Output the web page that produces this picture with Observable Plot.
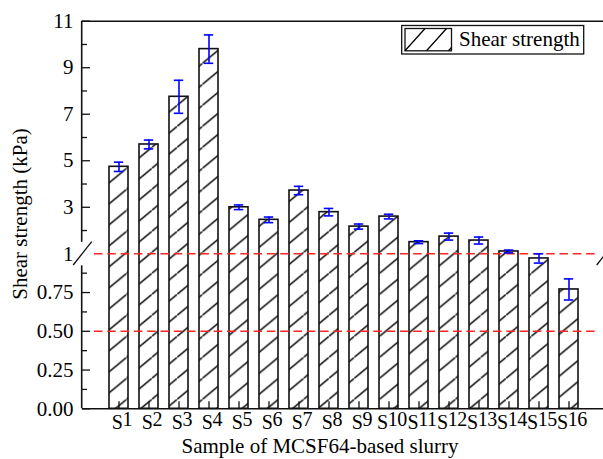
<!DOCTYPE html>
<html>
<head>
<meta charset="utf-8">
<script src="https://cdn.jsdelivr.net/npm/d3@7"></script>
<script src="https://cdn.jsdelivr.net/npm/@observablehq/plot@0.6"></script>
<style>
  html, body { margin: 0; padding: 0; background: #fff; }
  #chart { width: 603px; height: 459px; overflow: hidden; }
</style>
</head>
<body>
<div id="chart"></div>
<script>
// Shear strength of MCSF64-based slurry samples (kPa), with standard deviations
const samples = ["S1","S2","S3","S4","S5","S6","S7","S8","S9","S10","S11","S12","S13","S14","S15","S16"];
const shearStrength = [4.74, 5.70, 7.75, 9.80, 3.00, 2.46, 3.72, 2.79, 2.17, 2.60, 1.50, 1.74, 1.57, 1.10, 0.97, 0.77];
const shearError    = [0.20, 0.19, 0.71, 0.61, 0.10, 0.12, 0.18, 0.16, 0.11, 0.10, 0.06, 0.15, 0.15, 0.06, 0.03, 0.068];

// Broken y axis: 0–1 on a stretched lower segment, 1–11 above
const yBreakDomain = [0, 1, 11];
const yTicks = [0, 0.25, 0.5, 0.75, 1, 3, 5, 7, 9, 11];
const yTickLabels = ["0.00", "0.25", "0.50", "0.75", "1", "3", "5", "7", "9", "11"];
const yMinorTicks = [0.125, 0.375, 0.625, 0.875, 2, 4, 6, 8, 10];
const refLines = [0.5, 1];

const legendLabel = "Shear strength";
const xTitle = "Sample of MCSF64-based slurry";
const yTitle = "Shear strength (kPa)";

const W = 603, H = 459;
const ML = 82, MT = 21, MB = 50.7;
const FONT = "Liberation Serif, Times New Roman, Times, serif";

const rows = samples.map((s, i) => ({sample: s, value: shearStrength[i], err: shearError[i]}));

const chart = Plot.plot({
  width: W,
  height: H,
  marginLeft: ML,
  marginRight: 0,
  marginTop: MT,
  marginBottom: MB,
  style: {fontFamily: FONT, fontSize: "21px", color: "#000", background: "#fff", overflow: "hidden"},
  x: {type: "band", domain: samples, range: [81.7, 605.9], paddingInner: 0.374, paddingOuter: 0.687},
  y: {type: "linear", domain: yBreakDomain, range: [408.3, 253.3, 20.7]},
  marks: [
    Plot.barY(rows, {x: "sample", y: "value", fill: "url(#hatch)", stroke: "#111", strokeWidth: 1.6}),
    Plot.ruleY(refLines, {y: d => d, stroke: "#ff2424", strokeWidth: 1.5, strokeDasharray: "8.5,4.8", insetLeft: 12, insetRight: 5}),
    Plot.ruleX(rows, {x: "sample", y1: d => d.value - d.err, y2: d => d.value + d.err, stroke: "#0000ff", strokeWidth: 1.6}),
    Plot.tickY(rows, {x: "sample", y: d => d.value + d.err, stroke: "#0000ff", strokeWidth: 1.6, insetLeft: 4.8, insetRight: 4.8}),
    Plot.tickY(rows, {x: "sample", y: d => d.value - d.err, stroke: "#0000ff", strokeWidth: 1.6, insetLeft: 4.8, insetRight: 4.8}),
    // frame: bottom and top edges
    Plot.ruleY([0, 11], {y: d => d, stroke: "#111", strokeWidth: 1.6}),
    // inward y ticks (none at the break)
    Plot.ruleY(yTicks.filter(t => t !== 1), {y: d => d, stroke: "#111", strokeWidth: 1.3, insetRight: W - ML - 8}),
    Plot.ruleY(yMinorTicks, {y: d => d, stroke: "#111", strokeWidth: 1.3, insetRight: W - ML - 5}),
    // inward x ticks at each sample
    Plot.ruleX(samples, {x: d => d, stroke: "#111", strokeWidth: 1.3, insetTop: (H - MT - MB) - 7}),
    Plot.axisY(yTicks, {tickSize: 0, tickPadding: 9, label: null, fontSize: 21, fontFamily: FONT,
      tickFormat: d => yTickLabels[yTicks.indexOf(d)]}),
    Plot.axisX({tickSize: 0, tickPadding: 6, label: null, fontSize: 20, fontFamily: FONT, dx: 3})
  ]
});

document.getElementById("chart").appendChild(chart);

const svg = d3.select(chart);
const y = chart.scale("y");
const xRange = chart.scale("x").range;
const axisX0 = xRange[0], axisX1 = xRange[1];
const yBreak = y.apply(1);

// diagonal hatch fill for the bars
const defs = svg.insert("defs", ":first-child");
const tw = 25.3, th = 21;
const pat = defs.append("pattern")
  .attr("id", "hatch")
  .attr("patternUnits", "userSpaceOnUse")
  .attr("width", tw).attr("height", th)
  .attr("x", 0).attr("y", 0.4);
pat.append("rect").attr("width", tw).attr("height", th).attr("fill", "#fff");
pat.append("path")
  .attr("d", `M0,${th}L${tw},0`)
  .attr("stroke", "#000").attr("stroke-width", 1.4).attr("fill", "none");

// left axis with a gap at the break, and the break slashes
const deco = svg.append("g").attr("stroke", "#111").attr("fill", "none");
deco.append("line").attr("x1", axisX0).attr("x2", axisX0).attr("y1", y.apply(11)).attr("y2", yBreak - 11.5).attr("stroke-width", 1.6);
deco.append("line").attr("x1", axisX0).attr("x2", axisX0).attr("y1", yBreak + 12).attr("y2", y.apply(0)).attr("stroke-width", 1.6);
deco.append("line").attr("x1", axisX0 - 8.5).attr("y1", yBreak + 11.7).attr("x2", axisX0 + 10).attr("y2", yBreak - 11.7).attr("stroke-width", 1.3);
deco.append("line").attr("x1", axisX1 - 9.2).attr("y1", yBreak + 11.7).attr("x2", axisX1 + 9.2).attr("y2", yBreak - 11.7).attr("stroke-width", 1.3);

// x tick labels: sample numbers sit slightly raised after the "S"
svg.selectAll('g[aria-label="x-axis tick label"] text').each(function() {
  const s = this.textContent;
  const m = s.match(/^(\D+)(\d+)$/);
  if (!m) return;
  const t = d3.select(this);
  t.text(m[1]).attr("letter-spacing", "-0.4px");
  t.append("tspan").attr("dy", -3).text(m[2]);
});

// legend
const lg = svg.append("g");
lg.append("rect").attr("x", 401.7).attr("y", 25.5).attr("width", 182).attr("height", 28.5)
  .attr("fill", "#fff").attr("stroke", "#111").attr("stroke-width", 1.3);
lg.append("rect").attr("x", 405).attr("y", 28.5).attr("width", 46.5).attr("height", 22.3)
  .attr("fill", "#fff").attr("stroke", "#111").attr("stroke-width", 1.3);
lg.append("path").attr("d", "M405,50.8L425,28.5M426.5,50.8L446.5,28.5M448.5,50.8L451.5,47.5")
  .attr("stroke", "#000").attr("stroke-width", 1.3).attr("fill", "none");
lg.append("text").attr("x", 459).attr("y", 46).attr("text-anchor", "start")
  .attr("font-size", 21).attr("fill", "#000").text(legendLabel);

// axis titles
svg.append("text").attr("x", 320).attr("y", 453).attr("text-anchor", "middle")
  .attr("font-size", 21).attr("fill", "#000").text(xTitle);
svg.append("text").attr("transform", "translate(27,214) rotate(-90)").attr("text-anchor", "middle")
  .attr("font-size", 21).attr("fill", "#000").text(yTitle);

// one serif face for every label
svg.selectAll("text").attr("font-family", FONT).style("font-family", FONT);
</script>
</body>
</html>
